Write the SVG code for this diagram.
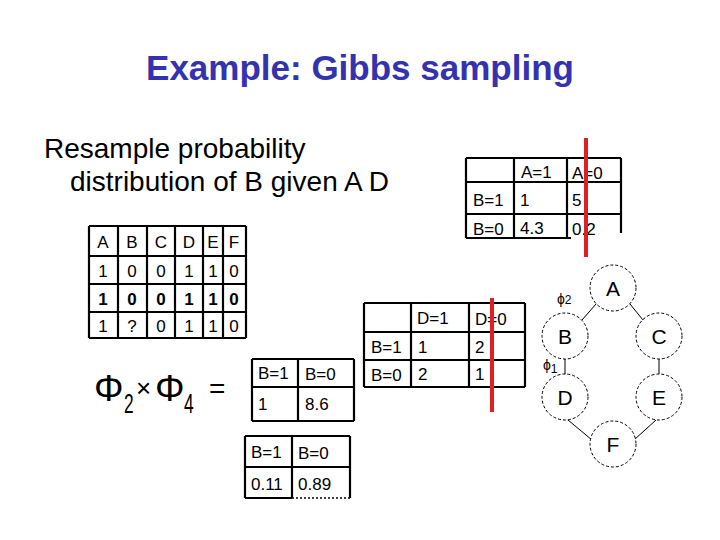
<svg xmlns="http://www.w3.org/2000/svg" width="720" height="540" viewBox="0 0 720 540">
<style>
text{font-family:"Liberation Sans",Arial,sans-serif;fill:#000}
.title{font-size:35px;font-weight:bold;fill:#3333B0}
.body{font-size:28px}
.cell{font-size:17px}
.cellb{font-size:17px;font-weight:bold}
.grid{stroke:#000;stroke-width:2.2;fill:none}
.red{stroke:#E02020;stroke-width:4}
.node circle{fill:#fff;stroke:#000;stroke-width:1;stroke-dasharray:3 2}
.node text{font-size:21px;text-anchor:middle}
.edge{stroke:#000;stroke-width:1}
</style>
<rect width="720" height="540" fill="#fff"/>
<text class="title" x="360" y="80" text-anchor="middle">Example: Gibbs sampling</text>
<text class="body" x="44" y="158">Resample probability</text>
<text class="body" x="70" y="191">distribution of B given A D</text>

<g id="table-AB">
<path class="grid" d="M466 158H621M466 182H621M466 214H621M466 238H571M466 158V238M514 158V238M567 158V238M621 158V233"/>
<text class="cell" x="521" y="178">A=1</text>
<text class="cell" x="572" y="179">A=0</text>
<text class="cell" x="473" y="206">B=1</text>
<text class="cell" x="520" y="206">1</text>
<text class="cell" x="572" y="206">5</text>
<text class="cell" x="473" y="235">B=0</text>
<text class="cell" x="520" y="234">4.3</text>
<text class="cell" x="572" y="235">0.2</text>
</g>
<line class="red" x1="586" y1="138" x2="586" y2="257"/>

<g id="table-data">
<path class="grid" d="M89 226H246M89 256H246M89 284H246M89 312H246M89 338H246M89 226V338M118 226V338M147 226V338M175 226V338M203 226V338M223 226V338M246 226V338"/>
<text class="cell" x="103" y="248" text-anchor="middle">A</text>
<text class="cell" x="132" y="248" text-anchor="middle">B</text>
<text class="cell" x="161" y="248" text-anchor="middle">C</text>
<text class="cell" x="189" y="248" text-anchor="middle">D</text>
<text class="cell" x="213" y="248" text-anchor="middle">E</text>
<text class="cell" x="234" y="248" text-anchor="middle">F</text>
<text class="cell" x="103" y="277" text-anchor="middle">1</text>
<text class="cell" x="132" y="277" text-anchor="middle">0</text>
<text class="cell" x="161" y="277" text-anchor="middle">0</text>
<text class="cell" x="189" y="277" text-anchor="middle">1</text>
<text class="cell" x="213" y="277" text-anchor="middle">1</text>
<text class="cell" x="234" y="277" text-anchor="middle">0</text>
<text class="cellb" x="103" y="305" text-anchor="middle">1</text>
<text class="cellb" x="132" y="305" text-anchor="middle">0</text>
<text class="cellb" x="161" y="305" text-anchor="middle">0</text>
<text class="cellb" x="189" y="305" text-anchor="middle">1</text>
<text class="cellb" x="213" y="305" text-anchor="middle">1</text>
<text class="cellb" x="234" y="305" text-anchor="middle">0</text>
<text class="cell" x="103" y="332" text-anchor="middle">1</text>
<text class="cell" x="132" y="332" text-anchor="middle">?</text>
<text class="cell" x="161" y="332" text-anchor="middle">0</text>
<text class="cell" x="189" y="332" text-anchor="middle">1</text>
<text class="cell" x="213" y="332" text-anchor="middle">1</text>
<text class="cell" x="234" y="332" text-anchor="middle">0</text>
</g>

<g id="table-BD">
<path class="grid" d="M364 303H525M364 332H525M364 360H525M364 387H525M364 303V387M411 303V387M469 303V387M525 303V387"/>
<text class="cell" x="417" y="324">D=1</text>
<text class="cell" x="475" y="325">D=0</text>
<text class="cell" x="371" y="353">B=1</text>
<text class="cell" x="418" y="353">1</text>
<text class="cell" x="475" y="353">2</text>
<text class="cell" x="371" y="381">B=0</text>
<text class="cell" x="418" y="380">2</text>
<text class="cell" x="475" y="380">1</text>
</g>
<line class="red" x1="492" y1="298" x2="492" y2="412"/>

<g id="formula">
<text x="94" y="401" style="font-size:37px">Φ</text>
<text transform="translate(124,413) scale(0.62,1)" style="font-size:28px">2</text>
<text x="136" y="397" style="font-size:26px">×</text>
<text x="155" y="401" style="font-size:37px">Φ</text>
<text transform="translate(184,413) scale(0.62,1)" style="font-size:28px">4</text>
<text x="209" y="398" style="font-size:28px">=</text>
</g>

<g id="table-product">
<path class="grid" d="M252 359H354M252 387H354M252 421H354M252 359V421M298 359V421M354 359V421"/>
<text class="cell" x="258" y="379">B=1</text>
<text class="cell" x="305" y="380">B=0</text>
<text class="cell" x="258" y="410">1</text>
<text class="cell" x="305" y="410">8.6</text>
</g>

<g id="table-normalized">
<path class="grid" d="M245 436H350M245 467H350M245 498H292M245 436V498M292 436V498M350 436V498"/>
<path d="M292 498H350" stroke="#000" stroke-width="1.5" stroke-dasharray="2 2"/>
<text class="cell" x="251" y="458">B=1</text>
<text class="cell" x="298" y="459">B=0</text>
<text class="cell" x="251" y="490">0.11</text>
<text class="cell" x="298" y="490">0.89</text>
</g>

<g id="connectors">
<line class="edge" x1="596" y1="304" x2="582" y2="320"/>
<line class="edge" x1="630" y1="304" x2="643" y2="320"/>
<line class="edge" x1="565" y1="359" x2="565" y2="374"/>
<line class="edge" x1="659" y1="359" x2="659" y2="374"/>
<line class="edge" x1="568" y1="420" x2="592" y2="440"/>
<line class="edge" x1="656" y1="420" x2="634" y2="440"/>
</g>
<g id="node-A" class="node"><circle cx="613" cy="288" r="23"/><text x="613" y="296">A</text></g>
<g id="node-B" class="node"><circle cx="565" cy="336" r="23"/><text x="565" y="344">B</text></g>
<g id="node-C" class="node"><circle cx="659" cy="336" r="23"/><text x="659" y="344">C</text></g>
<g id="node-D" class="node"><circle cx="565" cy="397" r="23"/><text x="565" y="405">D</text></g>
<g id="node-E" class="node"><circle cx="659" cy="397" r="23"/><text x="659" y="405">E</text></g>
<g id="node-F" class="node"><circle cx="613" cy="444" r="23"/><text x="613" y="452">F</text></g>
<text x="557" y="304" style="font-size:14px">ϕ<tspan style="font-size:12px">2</tspan></text>
<text x="543" y="370" style="font-size:14px">ϕ<tspan style="font-size:12px" dy="3">1</tspan></text>
</svg>
